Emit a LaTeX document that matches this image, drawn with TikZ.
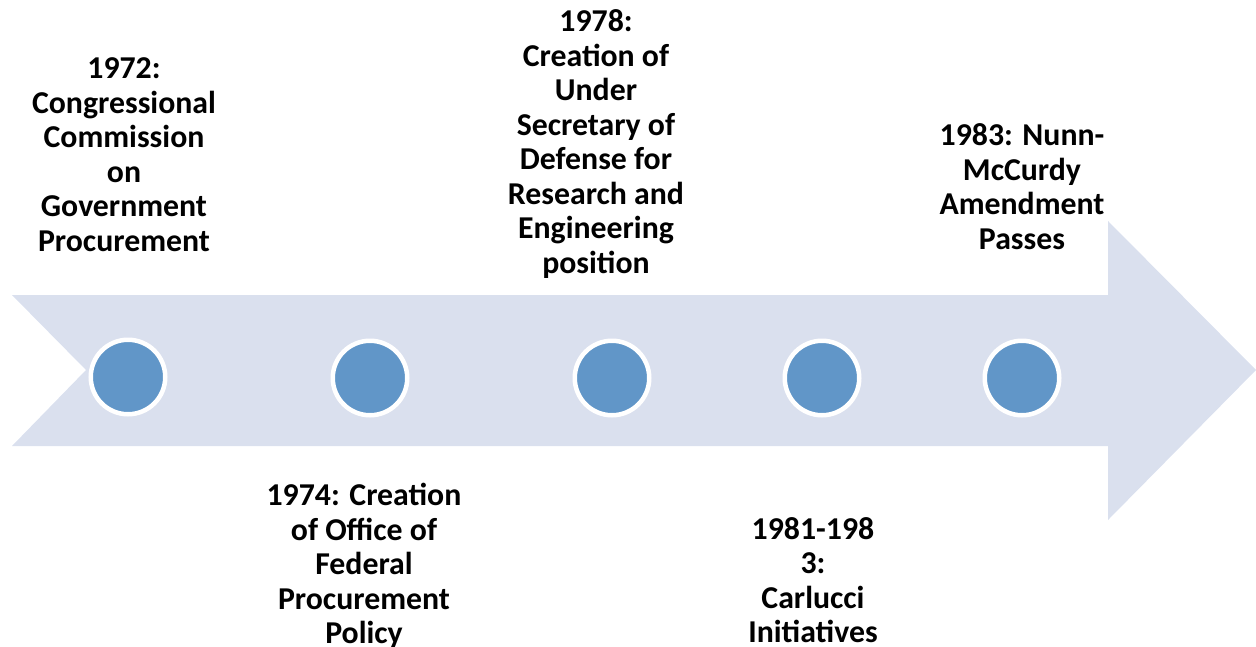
\documentclass[tikz,border=0pt]{standalone}
\usepackage{fontspec}
\setmainfont{Carlito}
\definecolor{arrowfill}{RGB}{218,224,238}
\definecolor{dotfill}{RGB}{97,150,200}
\begin{document}
\begin{tikzpicture}[x=1pt,y=-1pt,
  dot/.style={circle,fill=dotfill,draw=white,line width=4.5pt,minimum size=74.5pt,inner sep=0pt},
  label/.style={align=center,font=\fontsize{31.8}{34.5}\selectfont\bfseries,inner sep=0pt,text=black}]
\useasboundingbox (0,0) rectangle (1256,646);
\fill[arrowfill] (12,295) -- (1108,295) -- (1108,221) -- (1256,370) -- (1108,520) -- (1108,446) -- (12,446) -- (86,370) -- cycle;
\node[dot] (d1) at (128,377) {};
\node[dot] (d2) at (370,378) {};
\node[dot] (d3) at (612,378) {};
\node[dot] (d4) at (822,378) {};
\node[dot] (d5) at (1022,378) {};
\node[label] (t1) at (124,158) {\strut 1972:\\Congressional\\Commission\\on\\Government\\Procurement\strut};
\node[label] (t2) at (364,568) {\strut 1974: Creation\\of Office of\\Federal\\Procurement\\Policy\strut};
\node[label] (t3) at (596,145.5) {\strut 1978:\\Creation of\\Under\\Secretary of\\Defense for\\Research and\\Engineering\\position\strut};
\node[label] (t4) at (813,584) {\strut 1981-198\\3:\\Carlucci\\Initiatives\strut};
\node[label] (t5) at (1022,190.5) {\strut 1983: Nunn-\\McCurdy\\Amendment\\Passes\strut};
\end{tikzpicture}
\end{document}
